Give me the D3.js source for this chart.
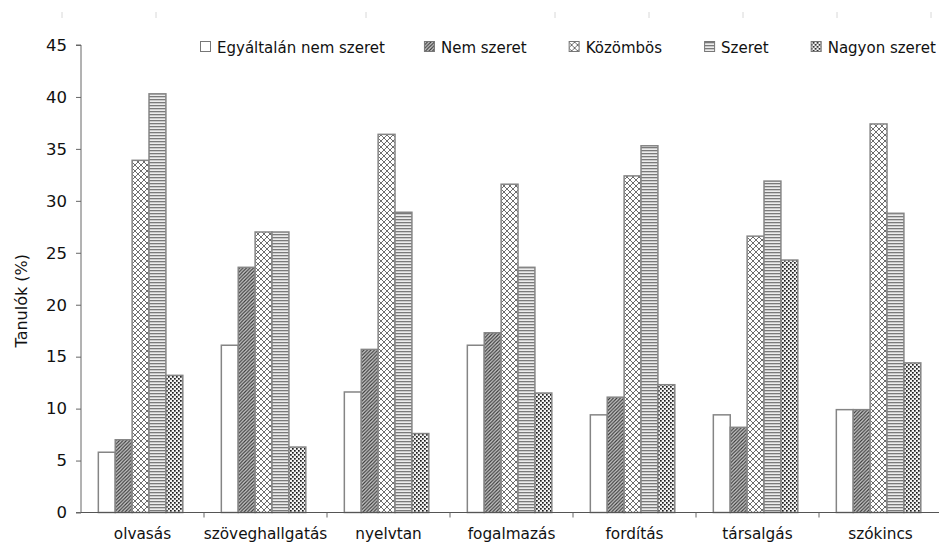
<!DOCTYPE html>
<html><head><meta charset="utf-8">
<script src="https://cdn.jsdelivr.net/npm/d3@7"></script>
<style>
html,body{margin:0;padding:0;background:#fff;}
svg{display:block;font-family:"DejaVu Sans",Verdana,sans-serif;}
</style></head>
<body>
<svg id="chart" width="939" height="545"></svg>
<script>
const categories = ["olvasás","szöveghallgatás","nyelvtan","fogalmazás","fordítás","társalgás","szókincs"];
const seriesNames = ["Egyáltalán nem szeret","Nem szeret","Közömbös","Szeret","Nagyon szeret"];
const egyaltalanNem = [5.8, 16.1, 11.6, 16.1, 9.4, 9.4, 9.9];
const nemSzeret     = [7.0, 23.6, 15.7, 17.3, 11.1, 8.2, 9.9];
const kozombos      = [33.9, 27.0, 36.4, 31.6, 32.4, 26.6, 37.4];
const szeret        = [40.3, 27.0, 28.9, 23.6, 35.3, 31.9, 28.8];
const nagyonSzeret  = [13.2, 6.3, 7.6, 11.5, 12.3, 24.3, 14.4];
const yTicks = [0,5,10,15,20,25,30,35,40,45];
const yLabel = "Tanulók (%)";

const seriesValues = [egyaltalanNem, nemSzeret, kozombos, szeret, nagyonSzeret];
const patternIds = ["p0","p1","p2","p3","p4"];

const svg = d3.select("#chart");
const W = 939, H = 545;
const mLeft = 81, mRight = 942, mTop = 45, mBottom = 512.5;

// patterns
const defs = svg.append("defs");
let p = defs.append("pattern").attr("id","p0").attr("patternUnits","userSpaceOnUse").attr("width",4).attr("height",4);
p.append("rect").attr("width",4).attr("height",4).attr("fill","#fff");
p = defs.append("pattern").attr("id","p1").attr("patternUnits","userSpaceOnUse").attr("width",3.5).attr("height",3.5);
p.append("rect").attr("width",3.5).attr("height",3.5).attr("fill","#cfcfcf");
p.append("path").attr("d","M-1,1 L1,-1 M0,3.5 L3.5,0 M2.5,4.5 L4.5,2.5").attr("stroke","#3a3a3a").attr("stroke-width",1.2);
p = defs.append("pattern").attr("id","p2").attr("patternUnits","userSpaceOnUse").attr("width",6).attr("height",6);
p.append("rect").attr("width",6).attr("height",6).attr("fill","#fff");
p.append("path").attr("d","M0,0 L6,6 M0,6 L6,0").attr("stroke","#6e6e6e").attr("stroke-width",1);
p = defs.append("pattern").attr("id","p3").attr("patternUnits","userSpaceOnUse").attr("width",4).attr("height",3);
p.append("rect").attr("width",4).attr("height",3).attr("fill","#ececec");
p.append("rect").attr("y",0).attr("width",4).attr("height",1.3).attr("fill","#7a7a7a");
p = defs.append("pattern").attr("id","p4").attr("patternUnits","userSpaceOnUse").attr("width",4).attr("height",4);
p.append("rect").attr("width",4).attr("height",4).attr("fill","#f2f2f2");
p.append("rect").attr("x",0).attr("y",0).attr("width",1.7).attr("height",1.7).attr("fill","#1e1e1e");
p.append("rect").attr("x",2).attr("y",2).attr("width",1.7).attr("height",1.7).attr("fill","#1e1e1e");

// scales
const x0 = d3.scaleBand().domain(categories).range([mLeft, mRight]).paddingInner(0).paddingOuter(0);
const x1 = d3.scaleBand().domain(seriesNames).range([0, x0.bandwidth()]).paddingInner(0).paddingOuter(1.14).align(0.45);
const y = d3.scaleLinear().domain([0,45]).range([mBottom, mTop]);

// faint top marks (scan artefacts)
const topMarks = [62,156,366,555,649,743,837,931];
svg.append("g").selectAll("line").data(topMarks).join("line")
  .attr("x1",d=>d).attr("x2",d=>d).attr("y1",12).attr("y2",18)
  .attr("stroke","#d8d8d8").attr("stroke-width",1);

// bars
const bars = svg.append("g");
seriesNames.forEach((s, si) => {
  bars.append("g").selectAll("rect").data(categories.map((c,i)=>({c, v: seriesValues[si][i]})))
    .join("rect")
    .attr("x", d => x0(d.c) + x1(s))
    .attr("y", d => y(d.v))
    .attr("width", x1.bandwidth())
    .attr("height", d => mBottom - y(d.v))
    .attr("fill", `url(#${patternIds[si]})`)
    .attr("stroke", "#858585")
    .attr("stroke-width", 1.5);
});

// y axis
const yAxis = d3.axisLeft(y).tickValues(yTicks).tickSize(5).tickPadding(9).tickFormat(d3.format("d"));
const gy = svg.append("g").attr("transform",`translate(${mLeft},0)`).call(yAxis);
gy.select(".domain").attr("stroke","#666").attr("d",`M-5,${mTop}H0V${mBottom}H-5`);
gy.selectAll(".tick line").attr("stroke","#666");
gy.selectAll(".tick text").attr("font-size",16.5).attr("fill","#111").attr("font-family","DejaVu Sans, sans-serif");

// x axis
const xAxis = d3.axisBottom(x0).tickSize(0).tickPadding(16);
const gx = svg.append("g").attr("transform",`translate(0,${mBottom})`).call(xAxis);
gx.select(".domain").attr("stroke","#555").attr("d",`M${mLeft},0H${W}`);
gx.selectAll(".tick text").attr("font-size",15.3).attr("fill","#111").attr("font-family","DejaVu Sans, sans-serif");
const bounds = categories.map(c => x0(c) + x0.bandwidth());
gx.append("g").selectAll("line").data(bounds).join("line")
  .attr("x1",d=>d).attr("x2",d=>d).attr("y1",0).attr("y2",5).attr("stroke","#666");

// y label
svg.append("text")
  .attr("transform",`translate(27,${(mTop+mBottom)/2 + 22}) rotate(-90)`)
  .attr("text-anchor","middle").attr("font-size",16).attr("fill","#111")
  .text(yLabel);

// legend
const lg = svg.append("g").attr("transform","translate(200,0)");
let lx = 0;
seriesNames.forEach((s, si) => {
  const g = lg.append("g").attr("transform",`translate(${lx},0)`);
  g.append("rect").attr("x",0.5).attr("y",41.5).attr("width",10).attr("height",10)
    .attr("fill",`url(#${patternIds[si]})`).attr("stroke","#777").attr("stroke-width",1);
  const t = g.append("text").attr("x",17).attr("y",53).attr("font-size",15).attr("fill","#111").text(s);
  const w = t.node().getComputedTextLength();
  lx += 17 + w + (si === 0 ? 39 : 42);
});
</script>
</body></html>
